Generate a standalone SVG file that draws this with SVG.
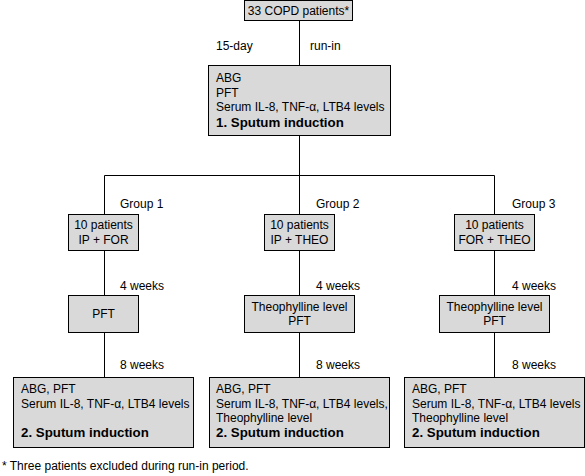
<svg xmlns="http://www.w3.org/2000/svg" width="585" height="476" viewBox="0 0 585 476">
<style>
.box{fill:#d9d9d9;stroke:#000;stroke-width:1}
.t{font-family:"Liberation Sans",Arial,sans-serif;font-size:12px;fill:#000}
.b{font-family:"Liberation Sans",Arial,sans-serif;font-size:13.3px;font-weight:bold;fill:#000}
.m{text-anchor:middle}
.ln{stroke:#000;stroke-width:1;fill:none}
</style>
<rect width="585" height="476" fill="#fff"/>
<g id="connectors">
<path class="ln" d="M299.5 20V65M299.5 135V175.5M104.5 175.5H494.5M104.5 175.5V214M299.5 175.5V214M494.5 175.5V214M104.5 250V295M299.5 250V295M494.5 250V295M104.5 332V377M299.5 332V377M494.5 332V377"/>
<text class="t" x="216" y="50">15-day</text>
<text class="t" x="310" y="50">run-in</text>
<text class="t" x="120" y="208">Group 1</text>
<text class="t" x="316" y="208">Group 2</text>
<text class="t" x="512" y="208">Group 3</text>
<text class="t" x="120" y="290">4 weeks</text>
<text class="t" x="316" y="290">4 weeks</text>
<text class="t" x="512" y="290">4 weeks</text>
<text class="t" x="120" y="369">8 weeks</text>
<text class="t" x="316" y="369">8 weeks</text>
<text class="t" x="512" y="369">8 weeks</text>
</g>
<g id="n-top">
<rect class="box" x="244.5" y="0.5" width="108" height="20"/>
<text class="t m" x="298.5" y="15">33 COPD patients*</text>
</g>
<g id="n-baseline">
<rect class="box" x="208.5" y="65.5" width="182" height="70"/>
<text class="t" x="216" y="82">ABG</text>
<text class="t" x="216" y="97">PFT</text>
<text class="t" x="216" y="111">Serum IL-8, TNF-α, LTB4 levels</text>
<text class="b" x="216" y="127">1. Sputum induction</text>
</g>
<g id="n-g1">
<rect class="box" x="68.5" y="214.5" width="70" height="36"/>
<text class="t m" x="103.5" y="229">10 patients</text>
<text class="t m" x="103.5" y="244">IP + FOR</text>
</g>
<g id="n-g2">
<rect class="box" x="264.5" y="214.5" width="70" height="36"/>
<text class="t m" x="299.5" y="229">10 patients</text>
<text class="t m" x="299.5" y="244">IP + THEO</text>
</g>
<g id="n-g3">
<rect class="box" x="454.5" y="214.5" width="80" height="36"/>
<text class="t m" x="494.5" y="229">10 patients</text>
<text class="t m" x="494.5" y="244">FOR + THEO</text>
</g>
<g id="n-w4-1">
<rect class="box" x="68.5" y="295.5" width="70" height="37"/>
<text class="t m" x="103.5" y="318">PFT</text>
</g>
<g id="n-w4-2">
<rect class="box" x="244.5" y="295.5" width="110" height="37"/>
<text class="t m" x="299.5" y="311">Theophylline level</text>
<text class="t m" x="299.5" y="325">PFT</text>
</g>
<g id="n-w4-3">
<rect class="box" x="439.5" y="295.5" width="110" height="37"/>
<text class="t m" x="494.5" y="311">Theophylline level</text>
<text class="t m" x="494.5" y="325">PFT</text>
</g>
<g id="n-w8-1">
<rect class="box" x="13.5" y="377.5" width="180" height="70"/>
<text class="t" x="21" y="393">ABG, PFT</text>
<text class="t" x="21" y="408">Serum IL-8, TNF-α, LTB4 levels</text>
<text class="b" x="21" y="437">2. Sputum induction</text>
</g>
<g id="n-w8-2">
<rect class="box" x="209.5" y="377.5" width="180" height="70"/>
<text class="t" x="216" y="393">ABG, PFT</text>
<text class="t" x="216" y="408">Serum IL-8, TNF-α, LTB4 levels,</text>
<text class="t" x="216" y="422">Theophylline level</text>
<text class="b" x="216" y="437">2. Sputum induction</text>
</g>
<g id="n-w8-3">
<rect class="box" x="404.5" y="377.5" width="180" height="70"/>
<text class="t" x="412" y="393">ABG, PFT</text>
<text class="t" x="412" y="408">Serum IL-8, TNF-α, LTB4 levels</text>
<text class="t" x="412" y="422">Theophylline level</text>
<text class="b" x="412" y="437">2. Sputum induction</text>
</g>
<text class="t" x="2" y="470">* Three patients excluded during run-in period.</text>
</svg>
